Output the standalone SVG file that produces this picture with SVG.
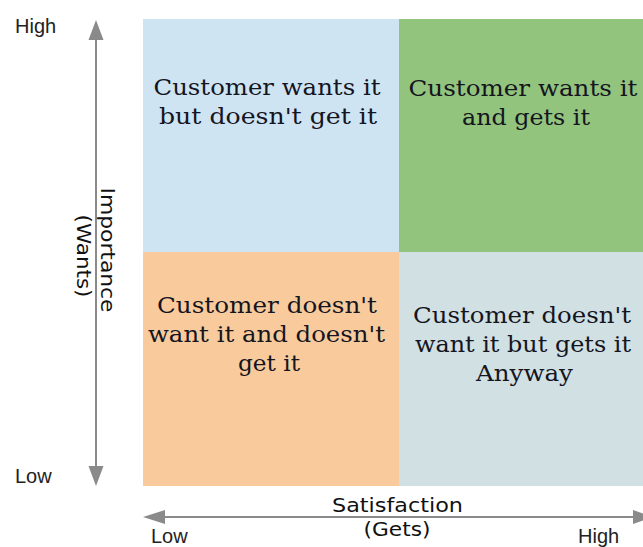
<svg xmlns="http://www.w3.org/2000/svg" width="643" height="547" viewBox="0 0 643 547">
  <style>
    .quad-text { font-family: "DejaVu Serif", "Liberation Serif", serif; font-size: 22px; fill: #15151f; text-anchor: middle; }
    .axis-title { font-family: "DejaVu Sans", "Liberation Sans", sans-serif; font-size: 20px; fill: #111; text-anchor: middle; }
    .tick { font-family: "Liberation Sans", Arial, sans-serif; font-size: 20px; fill: #222; }
    .axis { stroke: #8a8a8a; stroke-width: 2; fill: none; }
    .head { fill: #8a8a8a; }
  </style>

  <rect width="643" height="547" fill="#ffffff"/>

  <!-- quadrants -->
  <g id="q-wants-not-gets">
    <rect x="143" y="19" width="256" height="233" fill="#cfe4f3"/>
    <text class="quad-text" x="267" y="95" textLength="227" lengthAdjust="spacingAndGlyphs">Customer wants it</text>
    <text class="quad-text" x="268" y="124" textLength="218" lengthAdjust="spacingAndGlyphs">but doesn't get it</text>
  </g>
  <g id="q-wants-gets">
    <rect x="399" y="19" width="244" height="233" fill="#93c47d"/>
    <text class="quad-text" x="523" y="96" textLength="229" lengthAdjust="spacingAndGlyphs">Customer wants it</text>
    <text class="quad-text" x="526" y="125" textLength="128" lengthAdjust="spacingAndGlyphs">and gets it</text>
  </g>
  <g id="q-not-wants-not-gets">
    <rect x="143" y="252" width="256" height="234" fill="#f9cb9c"/>
    <text class="quad-text" x="267" y="313" textLength="220" lengthAdjust="spacingAndGlyphs">Customer doesn't</text>
    <text class="quad-text" x="266.5" y="342" textLength="237" lengthAdjust="spacingAndGlyphs">want it and doesn't</text>
    <text class="quad-text" x="269" y="371" textLength="62" lengthAdjust="spacingAndGlyphs">get it</text>
  </g>
  <g id="q-not-wants-gets">
    <rect x="399" y="252" width="244" height="234" fill="#d0e0e3"/>
    <text class="quad-text" x="522" y="323" textLength="218" lengthAdjust="spacingAndGlyphs">Customer doesn't</text>
    <text class="quad-text" x="523" y="352" textLength="216" lengthAdjust="spacingAndGlyphs">want it but gets it</text>
    <text class="quad-text" x="524.5" y="381" textLength="97" lengthAdjust="spacingAndGlyphs">Anyway</text>
  </g>

  <!-- axes -->
  <g id="connectors">
    <line class="axis" x1="96" y1="38" x2="96" y2="467"/>
    <polygon class="head" points="96,20 88.5,40 103.5,40"/>
    <polygon class="head" points="96,486 88.5,466 103.5,466"/>
    <line class="axis" x1="163" y1="517" x2="643" y2="517"/>
    <polygon class="head" points="143,517 165,510 165,524"/>
    <polygon class="head" points="653,517 633,510 633,524"/>
  </g>

  <!-- axis labels -->
  <g id="axis-y">
    <text class="tick" x="15" y="33">High</text>
    <text class="tick" x="15" y="483">Low</text>
    <text class="axis-title" transform="translate(101,250) rotate(90)" textLength="125" lengthAdjust="spacingAndGlyphs">Importance</text>
    <text class="axis-title" transform="translate(77,256) rotate(90)" textLength="83" lengthAdjust="spacingAndGlyphs">(Wants)</text>
  </g>
  <g id="axis-x">
    <text class="axis-title" x="397.5" y="512" textLength="131" lengthAdjust="spacingAndGlyphs">Satisfaction</text>
    <text class="axis-title" x="397" y="536" textLength="67" lengthAdjust="spacingAndGlyphs">(Gets)</text>
    <text class="tick" x="151" y="543">Low</text>
    <text class="tick" x="578" y="543">High</text>
  </g>
</svg>
